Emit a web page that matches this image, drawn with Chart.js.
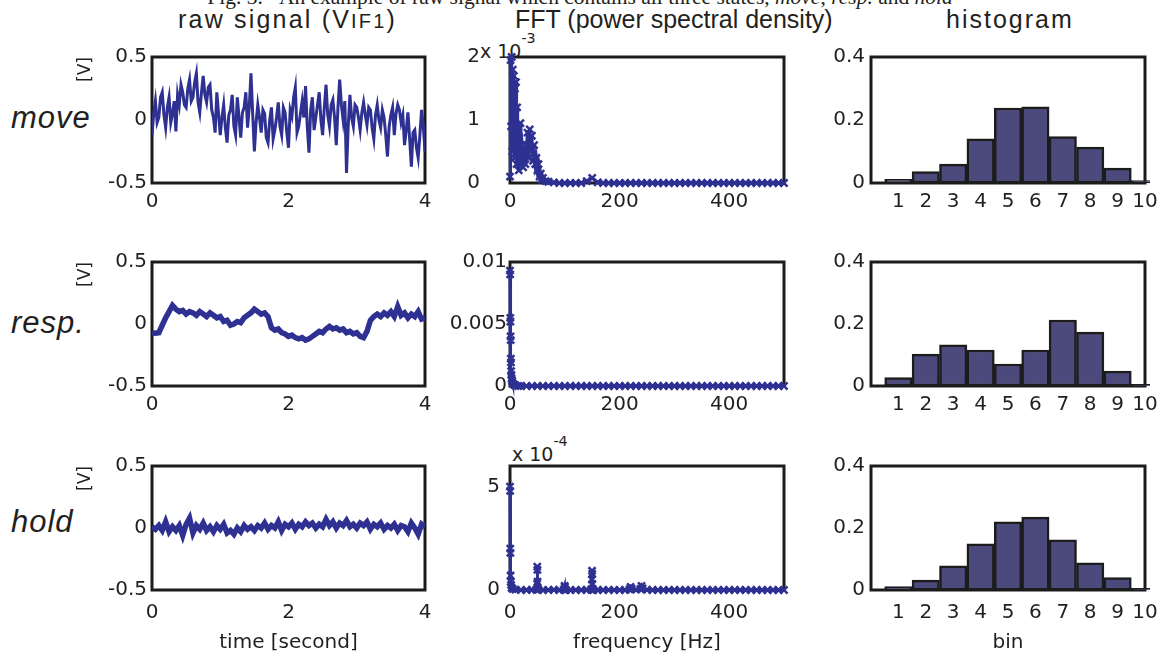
<!DOCTYPE html>
<html>
<head>
<meta charset="utf-8">
<script src="https://cdn.jsdelivr.net/npm/chart.js@4.4.0/dist/chart.umd.min.js"></script>
<style>
body { margin: 0; width: 1166px; height: 656px; overflow: hidden; position: relative; background: #fff; color: #231f20; font-family: "DejaVu Sans", sans-serif; }
canvas { position: absolute; }
.t { position: absolute; white-space: nowrap; line-height: 1; }
.cap { font-family: "Liberation Serif", serif; font-size: 21.5px; top: -13px; left: 580px; transform: translateX(-50%); }
.head { font-family: "Liberation Sans", Arial, sans-serif; font-size: 25px; top: 7px; }
.head small { font-size: 0.8em; }
.row { font-family: "Liberation Sans", Arial, sans-serif; font-style: italic; font-size: 31px; left: 11px; letter-spacing: 1px; }
.exp { font-size: 19px; }
.exp sup { font-size: 0.75em; position: relative; top: -8px; }
</style>
</head>
<body>
<div class="t cap">Fig. 3.&nbsp;&nbsp;&nbsp;An example of raw signal which contains all three states, <i>move</i>, <i>resp.</i> and <i>hold</i></div>
<div class="t head" style="left:178px;letter-spacing:2.2px">raw signal (V<small>IF1</small>)</div>
<div class="t head" style="left:515px">FFT (power spectral density)</div>
<div class="t head" style="left:946px;letter-spacing:2px">histogram</div>
<div class="t row" style="top:102px">move</div>
<div class="t row" style="top:307px">resp.</div>
<div class="t row" style="top:506px">hold</div>
<div class="t exp" style="left:480px;top:39px">x 10<sup>-3</sup></div>
<div class="t exp" style="left:512px;top:442px">x 10<sup>-4</sup></div>

<canvas id="raw1"></canvas>
<canvas id="fft1"></canvas>
<canvas id="hist1"></canvas>
<canvas id="raw2"></canvas>
<canvas id="fft2"></canvas>
<canvas id="hist2"></canvas>
<canvas id="raw3"></canvas>
<canvas id="fft3"></canvas>
<canvas id="hist3"></canvas>

<script>
// ---- raw signal, 4 s (values in V) ----
const moveTime = [0,0.025,0.05,0.075,0.1,0.125,0.15,0.175,0.2,0.225,0.25,0.275,0.3,0.325,0.35,0.375,0.4,0.425,0.45,0.475,
  0.5,0.525,0.55,0.575,0.6,0.625,0.65,0.675,0.7,0.725,0.75,0.775,0.8,0.825,0.85,0.875,0.9,0.925,0.95,0.975,
  1,1.025,1.05,1.075,1.1,1.125,1.15,1.175,1.2,1.225,1.25,1.275,1.3,1.325,1.35,1.375,1.4,1.425,1.45,1.475,
  1.5,1.525,1.55,1.575,1.6,1.625,1.65,1.675,1.7,1.725,1.75,1.775,1.8,1.825,1.85,1.875,1.9,1.925,1.95,1.975,
  2,2.025,2.05,2.075,2.1,2.125,2.15,2.175,2.2,2.225,2.25,2.275,2.3,2.325,2.35,2.375,2.4,2.425,2.45,2.475,
  2.5,2.525,2.55,2.575,2.6,2.625,2.65,2.675,2.7,2.725,2.75,2.775,2.8,2.825,2.85,2.875,2.9,2.925,2.95,2.975,
  3,3.025,3.05,3.075,3.1,3.125,3.15,3.175,3.2,3.225,3.25,3.275,3.3,3.325,3.35,3.375,3.4,3.425,3.45,3.475,
  3.5,3.525,3.55,3.575,3.6,3.625,3.65,3.675,3.7,3.725,3.75,3.775,3.8,3.825,3.85,3.875,3.9,3.925,3.95,3.975,4];
const rawMove = [-0.12,0.05,0.15,-0.02,0.02,0.18,0.22,0.04,-0.06,0.10,0.18,-0.02,0.05,0.15,-0.09,0.20,0.12,0.28,0.22,0.12,
  0.10,0.25,0.32,0.15,0.18,0.30,0.37,0.14,0.06,0.22,0.35,0.20,0.14,0.26,0.28,0.08,0.02,-0.10,0.22,0.05,
  -0.12,0.02,0.12,-0.06,-0.18,0.04,0.08,0.20,-0.05,-0.12,0.18,0.02,-0.14,0.06,0.10,0.22,-0.06,0.10,0.37,0.05,
  -0.25,-0.02,0.12,0.02,-0.10,0.08,0.05,-0.14,-0.18,0.00,0.10,-0.15,-0.08,0.02,0.14,-0.05,-0.12,0.10,0.06,-0.10,
  -0.22,0.08,0.03,0.18,0.26,-0.10,-0.05,0.05,0.15,0.02,0.27,-0.05,-0.26,0.08,0.18,-0.08,0.02,0.12,0.22,0.00,
  -0.12,0.10,0.28,0.04,-0.05,0.12,0.16,0.02,-0.20,0.10,0.32,0.12,0.00,0.15,-0.42,-0.05,0.20,0.02,-0.05,0.12,
  0.10,0.02,-0.08,0.06,0.14,0.04,-0.04,0.10,0.08,-0.06,-0.15,0.04,0.12,0.00,-0.06,0.08,0.02,-0.12,-0.29,-0.05,
  0.04,0.10,-0.12,0.05,0.12,0.08,-0.02,0.04,-0.20,-0.08,0.06,-0.15,-0.37,-0.10,-0.08,-0.22,-0.30,-0.12,0.08,-0.05,-0.25];

const rawTime = [0,0.05,0.1,0.15,0.2,0.25,0.3,0.35,0.4,0.45,0.5,0.55,0.6,0.65,0.7,0.75,0.8,0.85,0.9,0.95,
  1,1.05,1.1,1.15,1.2,1.25,1.3,1.35,1.4,1.45,1.5,1.55,1.6,1.65,1.7,1.75,1.8,1.85,1.9,1.95,
  2,2.05,2.1,2.15,2.2,2.25,2.3,2.35,2.4,2.45,2.5,2.55,2.6,2.65,2.7,2.75,2.8,2.85,2.9,2.95,
  3,3.05,3.1,3.15,3.2,3.25,3.3,3.35,3.4,3.45,3.5,3.55,3.6,3.65,3.7,3.75,3.8,3.85,3.9,3.95,4];
const rawResp = [-0.07,-0.075,-0.07,-0.01,0.05,0.10,0.15,0.12,0.10,0.11,
  0.08,0.10,0.09,0.07,0.10,0.08,0.06,0.09,0.07,0.05,
  0.06,0.02,0.03,-0.01,0.00,0.02,0.01,0.05,0.07,0.09,
  0.12,0.10,0.08,0.09,0.06,-0.03,-0.05,-0.04,-0.07,-0.08,
  -0.10,-0.09,-0.11,-0.12,-0.11,-0.13,-0.12,-0.10,-0.08,-0.06,
  -0.07,-0.04,-0.02,-0.04,-0.03,-0.05,-0.04,-0.07,-0.06,-0.08,
  -0.07,-0.10,-0.11,-0.06,0.03,0.06,0.08,0.06,0.09,0.07,
  0.10,0.06,0.14,0.07,0.09,0.05,0.08,0.06,0.10,0.04,0.05];
const rawHold = [0.01,-0.01,0.02,-0.02,0.05,-0.03,0.01,-0.02,0.02,-0.06,
  0.03,0.08,-0.04,0.02,-0.01,0.04,-0.02,0.01,-0.03,0.02,
  -0.01,0.03,-0.04,-0.02,-0.05,0.00,-0.03,0.02,-0.01,0.01,
  -0.02,0.02,0.00,0.04,-0.01,0.02,0.00,0.05,-0.02,0.03,
  0.01,0.04,-0.01,0.03,0.01,0.05,0.02,0.04,0.00,0.03,
  0.01,0.07,0.02,0.05,0.00,0.04,0.02,0.06,0.01,0.03,
  0.00,0.04,0.02,0.05,-0.01,0.03,0.01,0.04,-0.01,0.02,
  0.00,0.03,-0.02,0.02,0.01,-0.03,0.04,0.00,-0.05,0.03,0.01];

// ---- FFT, power spectral density ----
// move: values in units of 1e-3
const fftMoveFreq = [0,1,2,3,4,5,6,7,8,9,10,11,12,13,14,15,16,17,18,19,20,
  22,24,26,28,30,32,34,36,38,40,42,44,46,48,50,52,54,56,58,60,65,
  70,80,90,100,110,120,130,140,150,160,170,180,190,200,210,220,230,240,250,260,
  270,280,290,300,310,320,330,340,350,360,370,380,390,400,410,420,430,440,450,460,470,480,490,500];
const fftMovePsd = [0.1,1.95,0.9,2.0,0.5,1.8,1.2,1.7,0.4,1.5,0.7,1.6,0.3,1.2,0.5,0.9,0.2,0.6,0.3,0.95,0.5,
  0.6,0.25,0.55,0.3,0.6,0.8,0.4,0.85,0.5,0.75,0.35,0.6,0.3,0.4,0.2,0.3,0.1,0.15,0.05,0.08,0.03,
  0.02,0.01,0,0,0,0,0,0.03,0.08,0.01,0,0,0,0,0,0,0,0,0,0,
  0,0,0,0,0,0,0,0,0,0,0,0,0,0,0,0,0,0,0,0,0,0,0,0];
// resp: absolute values
const fftRespFreq = [0,0.25,0.5,0.75,1,1.25,1.5,1.75,2,2.5,3,4,5,7.5,10,15,20,
  30,40,50,60,70,80,90,100,110,120,130,140,150,160,170,180,190,200,210,220,230,240,250,260,
  270,280,290,300,310,320,330,340,350,360,370,380,390,400,410,420,430,440,450,460,470,480,490,500];
const fftRespPsd = [0.0093,0.0090,0.0055,0.0052,0.0040,0.0037,0.0022,0.0019,0.0012,0.0009,0.0006,0.0004,0.0002,0.0001,0.00005,0,0,
  0,0,0,0,0,0,0,0,0,0,0,0,0,0,0,0,0,0,0,0,0,0,0,0,
  0,0,0,0,0,0,0,0,0,0,0,0,0,0,0,0,0,0,0,0,0,0,0,0];
// hold: values in units of 1e-4
const fftHoldFreq = [0,0.25,0.5,0.75,1,1.5,2,3,5,10,20,30,40,48,49.5,49.75,50,50.25,50.5,52,
  60,70,80,90,98,99.75,100,100.25,102,110,120,130,140,148,149.5,149.75,150,150.25,150.5,152,
  160,170,180,190,200,210,218,220,222,230,238,240,242,250,
  260,270,280,290,300,310,320,330,340,350,360,370,380,390,400,410,420,430,440,450,460,470,480,490,500];
const fftHoldPsd = [5.0,4.8,2.0,1.8,0.7,0.4,0.25,0.1,0.05,0.02,0,0,0.01,0.02,0.3,1.13,0.97,0.4,0.05,0.02,
  0,0,0.01,0,0.02,0.2,0.15,0.05,0,0,0,0,0.01,0.02,0.5,0.93,0.78,0.3,0.05,0,
  0,0,0,0,0,0,0.03,0.15,0.05,0.02,0.05,0.2,0.08,0.01,
  0,0,0,0,0,0,0,0,0,0,0,0,0,0,0,0,0,0,0,0,0,0,0,0,0];

// ---- histograms ----
const histBins = [1,2,3,4,5,6,7,8,9,10];
const histMove = [0.012,0.036,0.06,0.14,0.238,0.242,0.147,0.114,0.047,0.008];
const histResp = [0.027,0.103,0.133,0.116,0.071,0.116,0.213,0.174,0.048,0.005];
const histHold = [0.011,0.032,0.078,0.149,0.22,0.235,0.162,0.088,0.04,0.005];

// ---- ticks ----
const rawTicksX = [0,2,4];
const rawTicksY = [-0.5,0,0.5];
const fftTicksX = [0,200,400];
const fftMoveTicksY = [0,1,2];
const fftRespTicksY = [0,0.005,0.01];
const fftHoldTicksY = [0,5];
const histTicksY = [0,0.2,0.4];

const ink = '#231f20';
const blue = '#2e3192';
const barFill = '#4c4a7c';
const tickFont = { family: 'DejaVu Sans', size: 20 };
const label = v => String(+v.toFixed(6));

const framePlugin = {
  id: 'frame',
  beforeDatasetsDraw(chart) {
    const { ctx, chartArea: a } = chart;
    ctx.save();
    ctx.strokeStyle = '#1c1c1c';
    ctx.lineWidth = 3;
    ctx.strokeRect(a.left, a.top, a.right - a.left, a.bottom - a.top);
    ctx.restore();
  }
};

// plot frames in page pixels
const cols = [[152, 425], [510, 784], [871, 1145]];
const rows = [[57, 183], [262, 386], [466, 590]];

function place(id, c, r) {
  const cv = document.getElementById(id);
  const [L, R] = cols[c];
  const [T, B] = rows[r];
  const xh = r === 2 ? 67 : 45;
  cv.width = R - L + 105;
  cv.height = B - T + 15 + xh;
  cv.style.left = (L - 80) + 'px';
  cv.style.top = (T - 15) + 'px';
  return { cv, xh };
}

function xScale(min, max, ticks, h, title) {
  return {
    type: 'linear', min, max, offset: false,
    grid: { display: false, drawTicks: false }, border: { display: false },
    afterBuildTicks: s => { s.ticks = ticks.map(v => ({ value: v })); },
    afterFit: s => { s.height = h; },
    ticks: { color: ink, font: tickFont, padding: title ? 11 : 7, autoSkip: false, maxRotation: 0, callback: label },
    title: { display: !!title, text: title || '', color: ink, font: tickFont, padding: { top: 0, bottom: 2 } }
  };
}

function yScale(min, max, ticks, pad, title) {
  return {
    type: 'linear', min, max,
    grid: { display: false, drawTicks: false }, border: { display: false },
    afterBuildTicks: s => { s.ticks = ticks.map(v => ({ value: v })); },
    afterFit: s => { s.width = 80; s.paddingTop = 12; s.paddingBottom = 12; },
    ticks: { color: ink, font: tickFont, padding: pad, autoSkip: false, callback: label },
    title: { display: !!title, text: title || '', align: 'end', color: ink,
      font: { family: 'DejaVu Sans', size: 17 }, padding: { top: 3, bottom: 0 } }
  };
}

function baseOptions(x, y) {
  return {
    responsive: false, animation: false, events: [],
    layout: { padding: { top: 15, right: 25, left: 0, bottom: 0 } },
    plugins: { legend: { display: false }, tooltip: { enabled: false } },
    scales: { x, y }
  };
}

function rawChart(id, r, time, vals, width, xTitle) {
  const { cv, xh } = place(id, 0, r);
  new Chart(cv, {
    type: 'line',
    data: { datasets: [{
      data: time.map((t, i) => ({ x: t, y: vals[i] })),
      borderColor: blue, borderWidth: width, pointRadius: 0, tension: 0
    }] },
    options: baseOptions(xScale(0, 4, rawTicksX, xh, xTitle), yScale(-0.5, 0.5, rawTicksY, 5, '[V]')),
    plugins: [framePlugin]
  });
}

function fftChart(id, r, freq, psd, yMax, yTicks, pad, xTitle) {
  const { cv, xh } = place(id, 1, r);
  new Chart(cv, {
    type: 'line',
    data: { datasets: [{
      data: freq.map((f, i) => ({ x: f, y: psd[i] })),
      borderColor: blue, borderWidth: 3, tension: 0,
      pointStyle: 'crossRot', pointRadius: 5, pointBorderWidth: 2.5,
      pointBorderColor: blue, pointBackgroundColor: blue, clip: false
    }] },
    options: baseOptions(xScale(0, 500, fftTicksX, xh, xTitle), yScale(0, yMax, yTicks, pad)),
    plugins: [framePlugin]
  });
}

function histChart(id, r, vals, xTitle) {
  const { cv, xh } = place(id, 2, r);
  new Chart(cv, {
    type: 'bar',
    data: { datasets: [{
      data: histBins.map((b, i) => ({ x: b, y: vals[i] })),
      backgroundColor: barFill, borderColor: '#1c1c1c', borderWidth: 2.5,
      borderSkipped: false, barPercentage: 1, categoryPercentage: 1, clip: 5
    }] },
    options: baseOptions(xScale(0, 10, histBins, xh, xTitle), yScale(0, 0.4, histTicksY, 6)),
    plugins: [framePlugin]
  });
}

rawChart('raw1', 0, moveTime, rawMove, 3);
rawChart('raw2', 1, rawTime, rawResp, 5.5);
rawChart('raw3', 2, rawTime, rawHold, 5.5, 'time [second]');

fftChart('fft1', 0, fftMoveFreq, fftMovePsd, 2, fftMoveTicksY, 30);
fftChart('fft2', 1, fftRespFreq, fftRespPsd, 0.01, fftRespTicksY, 3);
fftChart('fft3', 2, fftHoldFreq, fftHoldPsd, 6, fftHoldTicksY, 10, 'frequency [Hz]');

histChart('hist1', 0, histMove);
histChart('hist2', 1, histResp);
histChart('hist3', 2, histHold, 'bin');
</script>
</body>
</html>
